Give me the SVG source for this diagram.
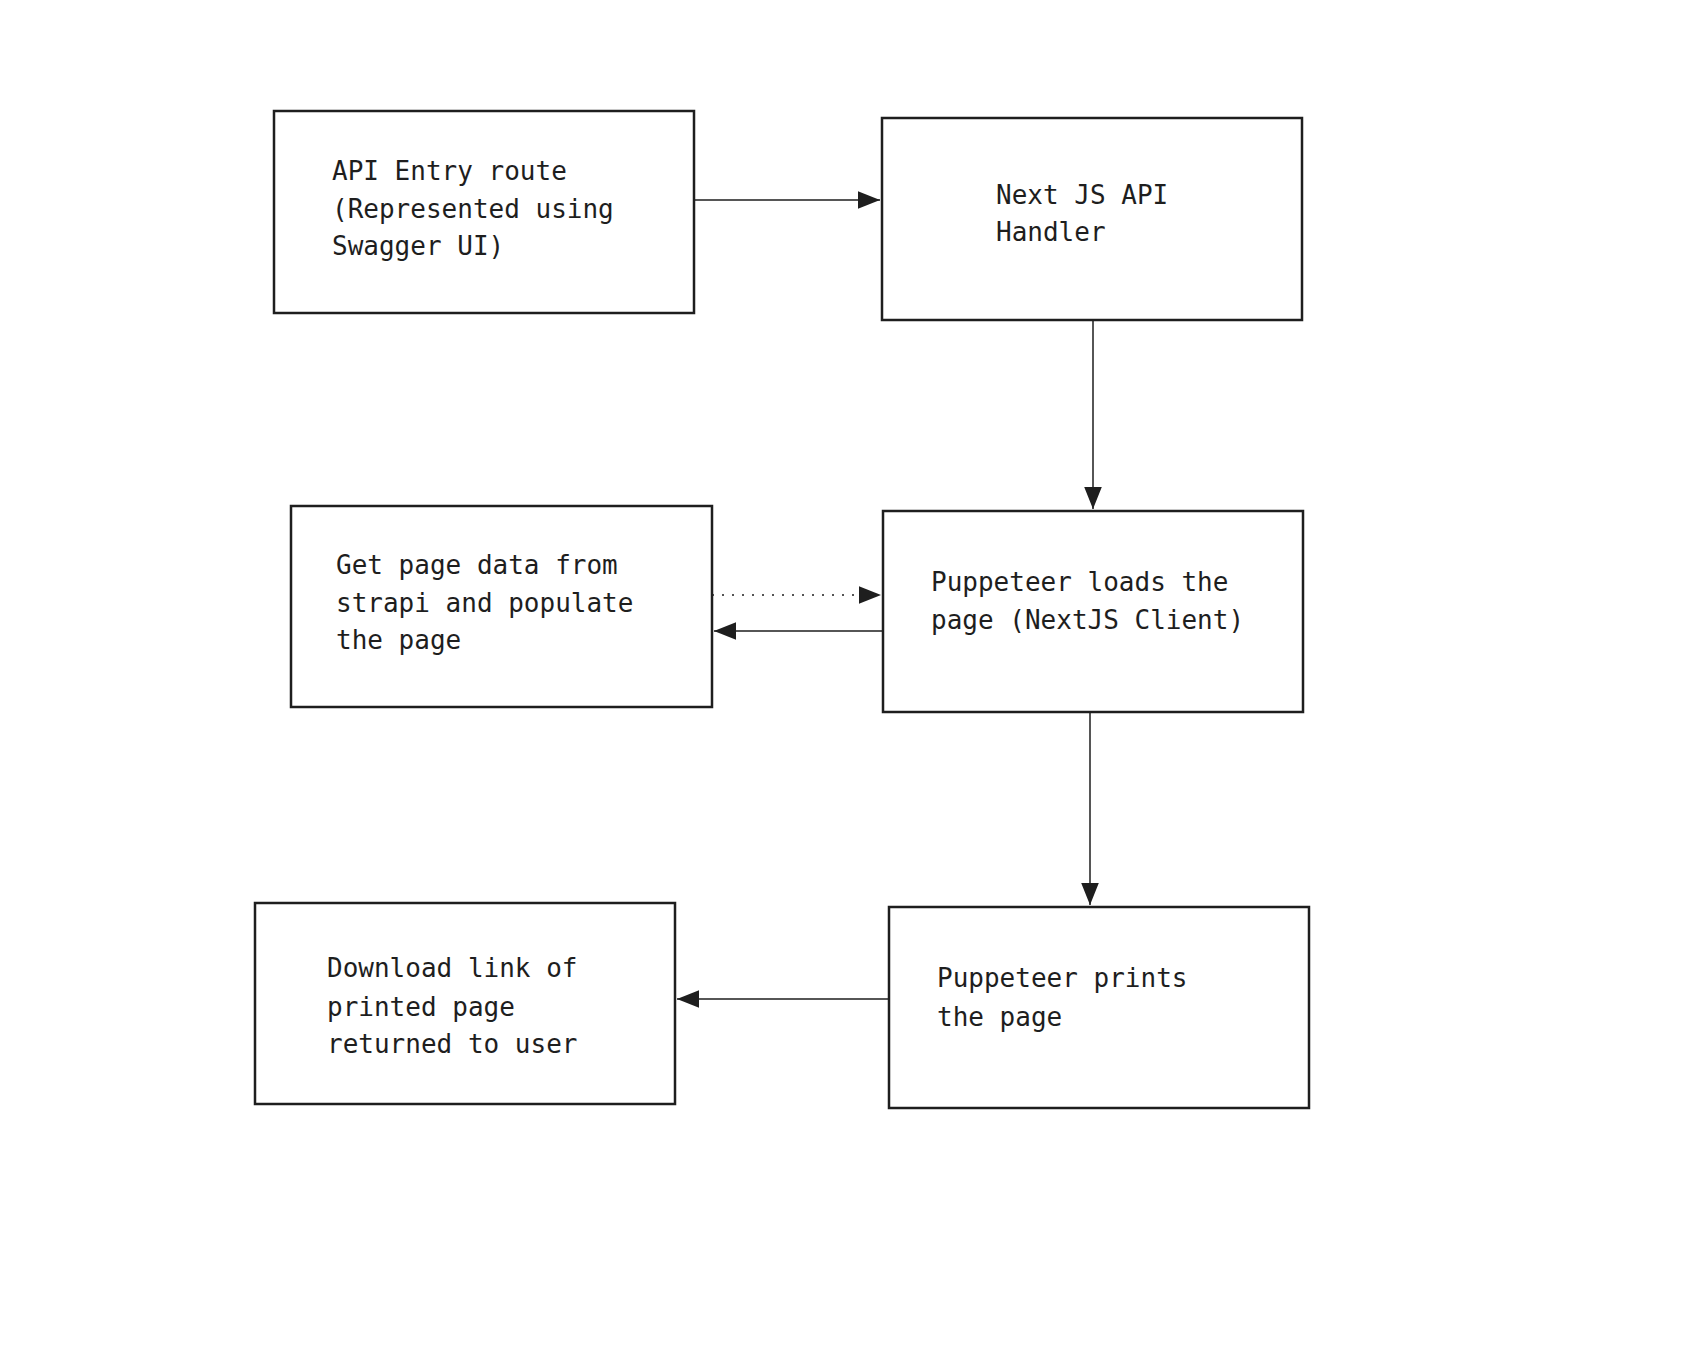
<svg xmlns="http://www.w3.org/2000/svg" width="1702" height="1346" viewBox="0 0 1702 1346">
<style>
.box{fill:#fff;stroke:#1e1e1e;stroke-width:2.5}
.t{font-family:"DejaVu Sans Mono","Liberation Mono",monospace;font-size:26px;fill:#1e1e1e}
.c{stroke:#1e1e1e;stroke-width:1.5;fill:none}
</style>
<defs>
<marker id="ah" viewBox="0 0 10 10" refX="10" refY="5" markerWidth="22" markerHeight="22" markerUnits="userSpaceOnUse" orient="auto"><path d="M0,1 L10,5 L0,9 Z" fill="#1e1e1e"/></marker>
</defs>
<rect width="1702" height="1346" fill="#fff"/>
<g id="connectors">
<line class="c" x1="694" y1="200" x2="880" y2="200" marker-end="url(#ah)"/>
<line class="c" x1="1093" y1="320" x2="1093" y2="509" marker-end="url(#ah)"/>
<line class="c" x1="712" y1="595" x2="881" y2="595" stroke-dasharray="2,8" marker-end="url(#ah)"/>
<line class="c" x1="883" y1="631" x2="714" y2="631" marker-end="url(#ah)"/>
<line class="c" x1="1090" y1="712" x2="1090" y2="905" marker-end="url(#ah)"/>
<line class="c" x1="889" y1="999" x2="677" y2="999" marker-end="url(#ah)"/>
</g>
<g id="n1"><rect class="box" x="274" y="111" width="420" height="202"/>
<text class="t" x="332" y="180">API Entry route</text><text class="t" x="332" y="218">(Represented using</text><text class="t" x="332" y="255">Swagger UI)</text></g>
<g id="n2"><rect class="box" x="882" y="118" width="420" height="202"/>
<text class="t" x="996" y="204">Next JS API</text><text class="t" x="996" y="241">Handler</text></g>
<g id="n3"><rect class="box" x="291" y="506" width="421" height="201"/>
<text class="t" x="336" y="574">Get page data from</text><text class="t" x="336" y="612">strapi and populate</text><text class="t" x="336" y="649">the page</text></g>
<g id="n4"><rect class="box" x="883" y="511" width="420" height="201"/>
<text class="t" x="931" y="591">Puppeteer loads the</text><text class="t" x="931" y="629">page (NextJS Client)</text></g>
<g id="n5"><rect class="box" x="255" y="903" width="420" height="201"/>
<text class="t" x="327" y="977">Download link of</text><text class="t" x="327" y="1016">printed page</text><text class="t" x="327" y="1053">returned to user</text></g>
<g id="n6"><rect class="box" x="889" y="907" width="420" height="201"/>
<text class="t" x="937" y="987">Puppeteer prints</text><text class="t" x="937" y="1026">the page</text></g>
</svg>
